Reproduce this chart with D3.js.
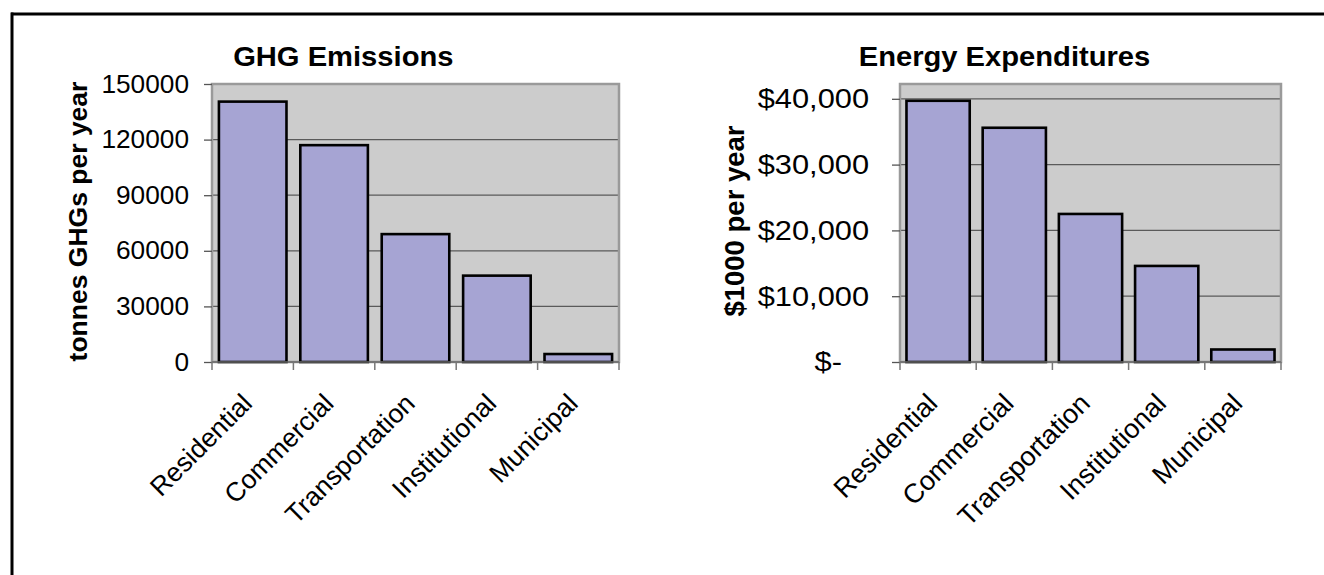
<!DOCTYPE html>
<html><head><meta charset="utf-8">
<script src="https://cdn.jsdelivr.net/npm/d3@7"></script>
<style>body{margin:0;background:#fff;} svg{display:block;font-family:Arial,"Liberation Sans",sans-serif;}</style>
</head><body><svg id="c" width="1324" height="575"></svg>
<script>
// ---- data ----
const categories = ["Residential", "Commercial", "Transportation", "Institutional", "Municipal"];
const ghgValues = [140500, 117000, 69000, 46600, 4300];
const energyValues = [39700, 35600, 22500, 14600, 1900];
const ghgTicks = [0, 30000, 60000, 90000, 120000, 150000];
const ghgTickLabels = ["0", "30000", "60000", "90000", "120000", "150000"];
const energyTicks = [0, 10000, 20000, 30000, 40000];
const energyTickLabels = ["$-", "$10,000", "$20,000", "$30,000", "$40,000"];
const ghgMax = 150000;
const energyMax = 42250;
const chartTitles = ["GHG Emissions", "Energy Expenditures"];
const yTitles = ["tonnes GHGs per year", "$1000 per year"];

const svg = d3.select("#c");

// outer frame (top + left edges)
svg.append("line").attr("x1", 11).attr("x2", 1324).attr("y1", 14).attr("y2", 14)
  .attr("stroke", "#000").attr("stroke-width", 3);
svg.append("line").attr("x1", 12).attr("x2", 12).attr("y1", 12.5).attr("y2", 575)
  .attr("stroke", "#000").attr("stroke-width", 3);

const layouts = [
  {x0: 212, x1: 619, y0: 84, y1: 362, titleX: 343.3, yTitleX: 87, yTitleY: 221.5, yTitleSize: 26.5,
   tickSize: 25, tickPad: 15, tickScale: 1.05, xLabSize: 26.5, zeroDx: 0},
  {x0: 900, x1: 1281, y0: 84, y1: 362, titleX: 1004.5, yTitleX: 744, yTitleY: 221, yTitleSize: 27.5,
   tickSize: 28, tickPad: 23, tickScale: 1.1, xLabSize: 27, zeroDx: -27}
];
const datasets = [
  {values: ghgValues, ticks: ghgTicks, labels: ghgTickLabels, max: ghgMax},
  {values: energyValues, ticks: energyTicks, labels: energyTickLabels, max: energyMax}
];

layouts.forEach((L, k) => {
  const D = datasets[k];
  const g = svg.append("g");
  const x = d3.scaleBand().domain(categories).range([L.x0, L.x1]).paddingInner(0.17).paddingOuter(0.085);
  const y = d3.scaleLinear().domain([0, D.max]).range([L.y1, L.y0]);

  // plot background
  g.append("rect").attr("x", L.x0).attr("y", L.y0).attr("width", L.x1 - L.x0).attr("height", L.y1 - L.y0)
    .attr("fill", "#cccccc");
  // gridlines
  g.selectAll(".grid").data(D.ticks.filter(t => t > 0)).join("line")
    .attr("x1", L.x0).attr("x2", L.x1).attr("y1", d => y(d)).attr("y2", d => y(d))
    .attr("stroke", "#5a5a5a").attr("stroke-width", 1.3);
  // plot border
  g.append("rect").attr("x", L.x0).attr("y", L.y0).attr("width", L.x1 - L.x0).attr("height", L.y1 - L.y0)
    .attr("fill", "none").attr("stroke", "#9a9a9a").attr("stroke-width", 2.5);

  // bars
  g.selectAll(".bar").data(D.values).join("rect")
    .attr("x", (d, i) => x(categories[i])).attr("width", x.bandwidth())
    .attr("y", d => y(d)).attr("height", d => y(0) - y(d))
    .attr("fill", "#a6a4d3").attr("stroke", "#000").attr("stroke-width", 2.6);

  // y axis
  const ya = g.append("g").attr("transform", `translate(${L.x0},0)`)
    .call(d3.axisLeft(y).tickValues(D.ticks).tickSize(8).tickPadding(L.tickPad)
      .tickFormat((d, i) => D.labels[i]));
  ya.select(".domain").remove();
  ya.selectAll(".tick line").attr("stroke", "#555").attr("stroke-width", 1.3);
  ya.selectAll(".tick text")
    .attr("fill", "#000")
    .style("font-family", "Arial, 'Liberation Sans', sans-serif")
    .style("font-size", L.tickSize + "px")
    .attr("x", d => (-(8 + L.tickPad) + (d === 0 ? L.zeroDx : 0)) / L.tickScale)
    .attr("transform", `scale(${L.tickScale},1)`);

  // x axis line & category boundary ticks
  g.append("line").attr("x1", L.x0).attr("x2", L.x1).attr("y1", L.y1).attr("y2", L.y1)
    .attr("stroke", "#6a6a6a").attr("stroke-width", 1.5);
  g.selectAll(".xt").data(d3.range(categories.length + 1)).join("line")
    .attr("x1", i => x.range()[0] + i * x.step()).attr("x2", i => x.range()[0] + i * x.step())
    .attr("y1", L.y1).attr("y2", L.y1 + 8)
    .attr("stroke", "#777").attr("stroke-width", 1.5);

  // x labels
  g.selectAll(".xl").data(categories).join("text")
    .attr("transform", d => `translate(${x(d) + x.bandwidth() / 2 + 1},${L.y1 + 43}) rotate(-45)`)
    .attr("text-anchor", "end")
    .style("font-size", L.xLabSize + "px")
    .text(d => d);

  // chart title
  g.append("text")
    .attr("transform", `translate(${L.titleX},66) scale(1.08,1)`)
    .attr("text-anchor", "middle").style("font-weight", "bold").style("font-size", "27px")
    .text(chartTitles[k]);

  // y title
  g.append("text")
    .attr("transform", `translate(${L.yTitleX},${L.yTitleY}) rotate(-90)`)
    .attr("text-anchor", "middle").style("font-weight", "bold").style("font-size", L.yTitleSize + "px")
    .text(yTitles[k]);
});
</script></body></html>
